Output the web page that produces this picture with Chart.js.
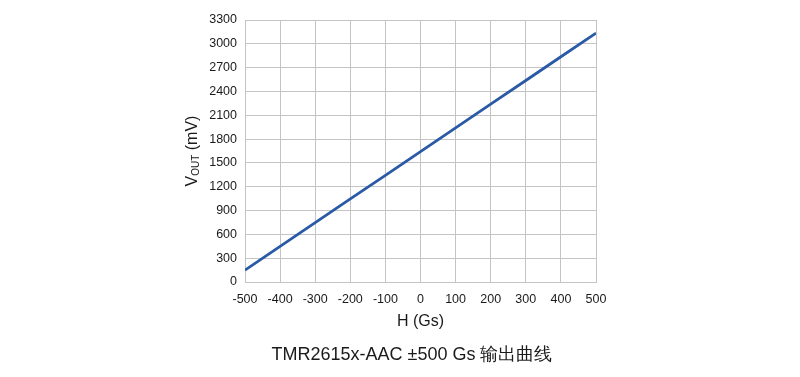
<!DOCTYPE html>
<html>
<head>
<meta charset="utf-8">
<script src="https://cdn.jsdelivr.net/npm/chart.js@4/dist/chart.umd.min.js"></script>
<style>
  html, body { margin: 0; padding: 0; background: #fff; }
  #wrap { width: 800px; height: 377px; position: relative; }
</style>
</head>
<body>
<div id="wrap"><canvas id="chart"></canvas></div>
<script>
// field H (Gs) and output voltage (mV)
const fieldGs = [-500, -400, -300, -200, -100, 0, 100, 200, 300, 400, 500];
const voutMv = [150, 449, 747, 1046, 1344, 1643, 1941, 2240, 2538, 2837, 3135];

const xTicks = [-500, -400, -300, -200, -100, 0, 100, 200, 300, 400, 500];
const yTicks = [0, 300, 600, 900, 1200, 1500, 1800, 2100, 2400, 2700, 3000, 3300];

const chartTitle = "TMR2615x-AAC ±500 Gs 输出曲线";
const xTitle = "H (Gs)";

const FONT = "'Liberation Sans', Arial, sans-serif";

// draws the axis titles (V with OUT subscript) and the caption under the chart
const labelsPlugin = {
  id: "labels",
  afterDraw(chart) {
    const ctx = chart.ctx;
    const area = chart.chartArea;
    ctx.save();
    ctx.fillStyle = "#1a1a1a";

    // x title
    ctx.font = "16px " + FONT;
    ctx.textAlign = "center";
    ctx.textBaseline = "middle";
    ctx.fillText(xTitle, (area.left + area.right) / 2, 322);

    // caption
    ctx.font = "18px " + FONT;
    ctx.fillText(chartTitle, 412, 355);

    // y title, rotated
    ctx.translate(191, (area.top + area.bottom) / 2);
    ctx.rotate(-Math.PI / 2);
    ctx.textBaseline = "alphabetic";
    ctx.textAlign = "left";
    const big = "16px " + FONT;
    const small = "10px " + FONT;
    ctx.font = big;
    const wV = ctx.measureText("V").width;
    const wRest = ctx.measureText(" (mV)").width;
    ctx.font = small;
    const wSub = ctx.measureText("OUT").width;
    let x = -(wV + wSub + wRest) / 2;
    const base = 6;
    ctx.font = big;
    ctx.fillText("V", x, base);
    x += wV;
    ctx.font = small;
    ctx.fillText("OUT", x, base + 2);
    x += wSub;
    ctx.font = big;
    ctx.fillText(" (mV)", x, base);
    ctx.restore();
  }
};

new Chart(document.getElementById("chart"), {
  type: "line",
  data: {
    datasets: [{
      data: fieldGs.map((h, i) => ({ x: h, y: voutMv[i] })),
      borderColor: "#2a5aa6",
      borderWidth: 2.8,
      pointRadius: 0,
      tension: 0,
      fill: false
    }]
  },
  options: {
    responsive: true,
    maintainAspectRatio: false,
    animation: false,
    layout: { padding: { left: 0, right: 204, top: 20, bottom: 0 } },
    plugins: {
      legend: { display: false },
      tooltip: { enabled: false }
    },
    scales: {
      x: {
        type: "linear",
        min: -500,
        max: 500,
        afterBuildTicks: (s) => { s.ticks = xTicks.map(v => ({ value: v })); },
        afterFit: (s) => { s.height = 95; },
        grid: { color: "#c4c4c4", lineWidth: 1, drawTicks: false },
        border: { color: "#c4c4c4" },
        ticks: {
          color: "#1a1a1a",
          font: { family: FONT, size: 12.5 },
          padding: 10,
          maxRotation: 0,
          callback: (v) => String(v)
        }
      },
      y: {
        min: 0,
        max: 3300,
        afterBuildTicks: (s) => { s.ticks = yTicks.map(v => ({ value: v })); },
        afterFit: (s) => { s.width = 245; },
        grid: { color: "#c4c4c4", lineWidth: 1, drawTicks: false },
        border: { color: "#c4c4c4" },
        ticks: {
          color: "#1a1a1a",
          font: { family: FONT, size: 12.5 },
          padding: 8,
          callback: (v) => String(v)
        }
      }
    }
  },
  plugins: [labelsPlugin]
});
</script>
</body>
</html>
